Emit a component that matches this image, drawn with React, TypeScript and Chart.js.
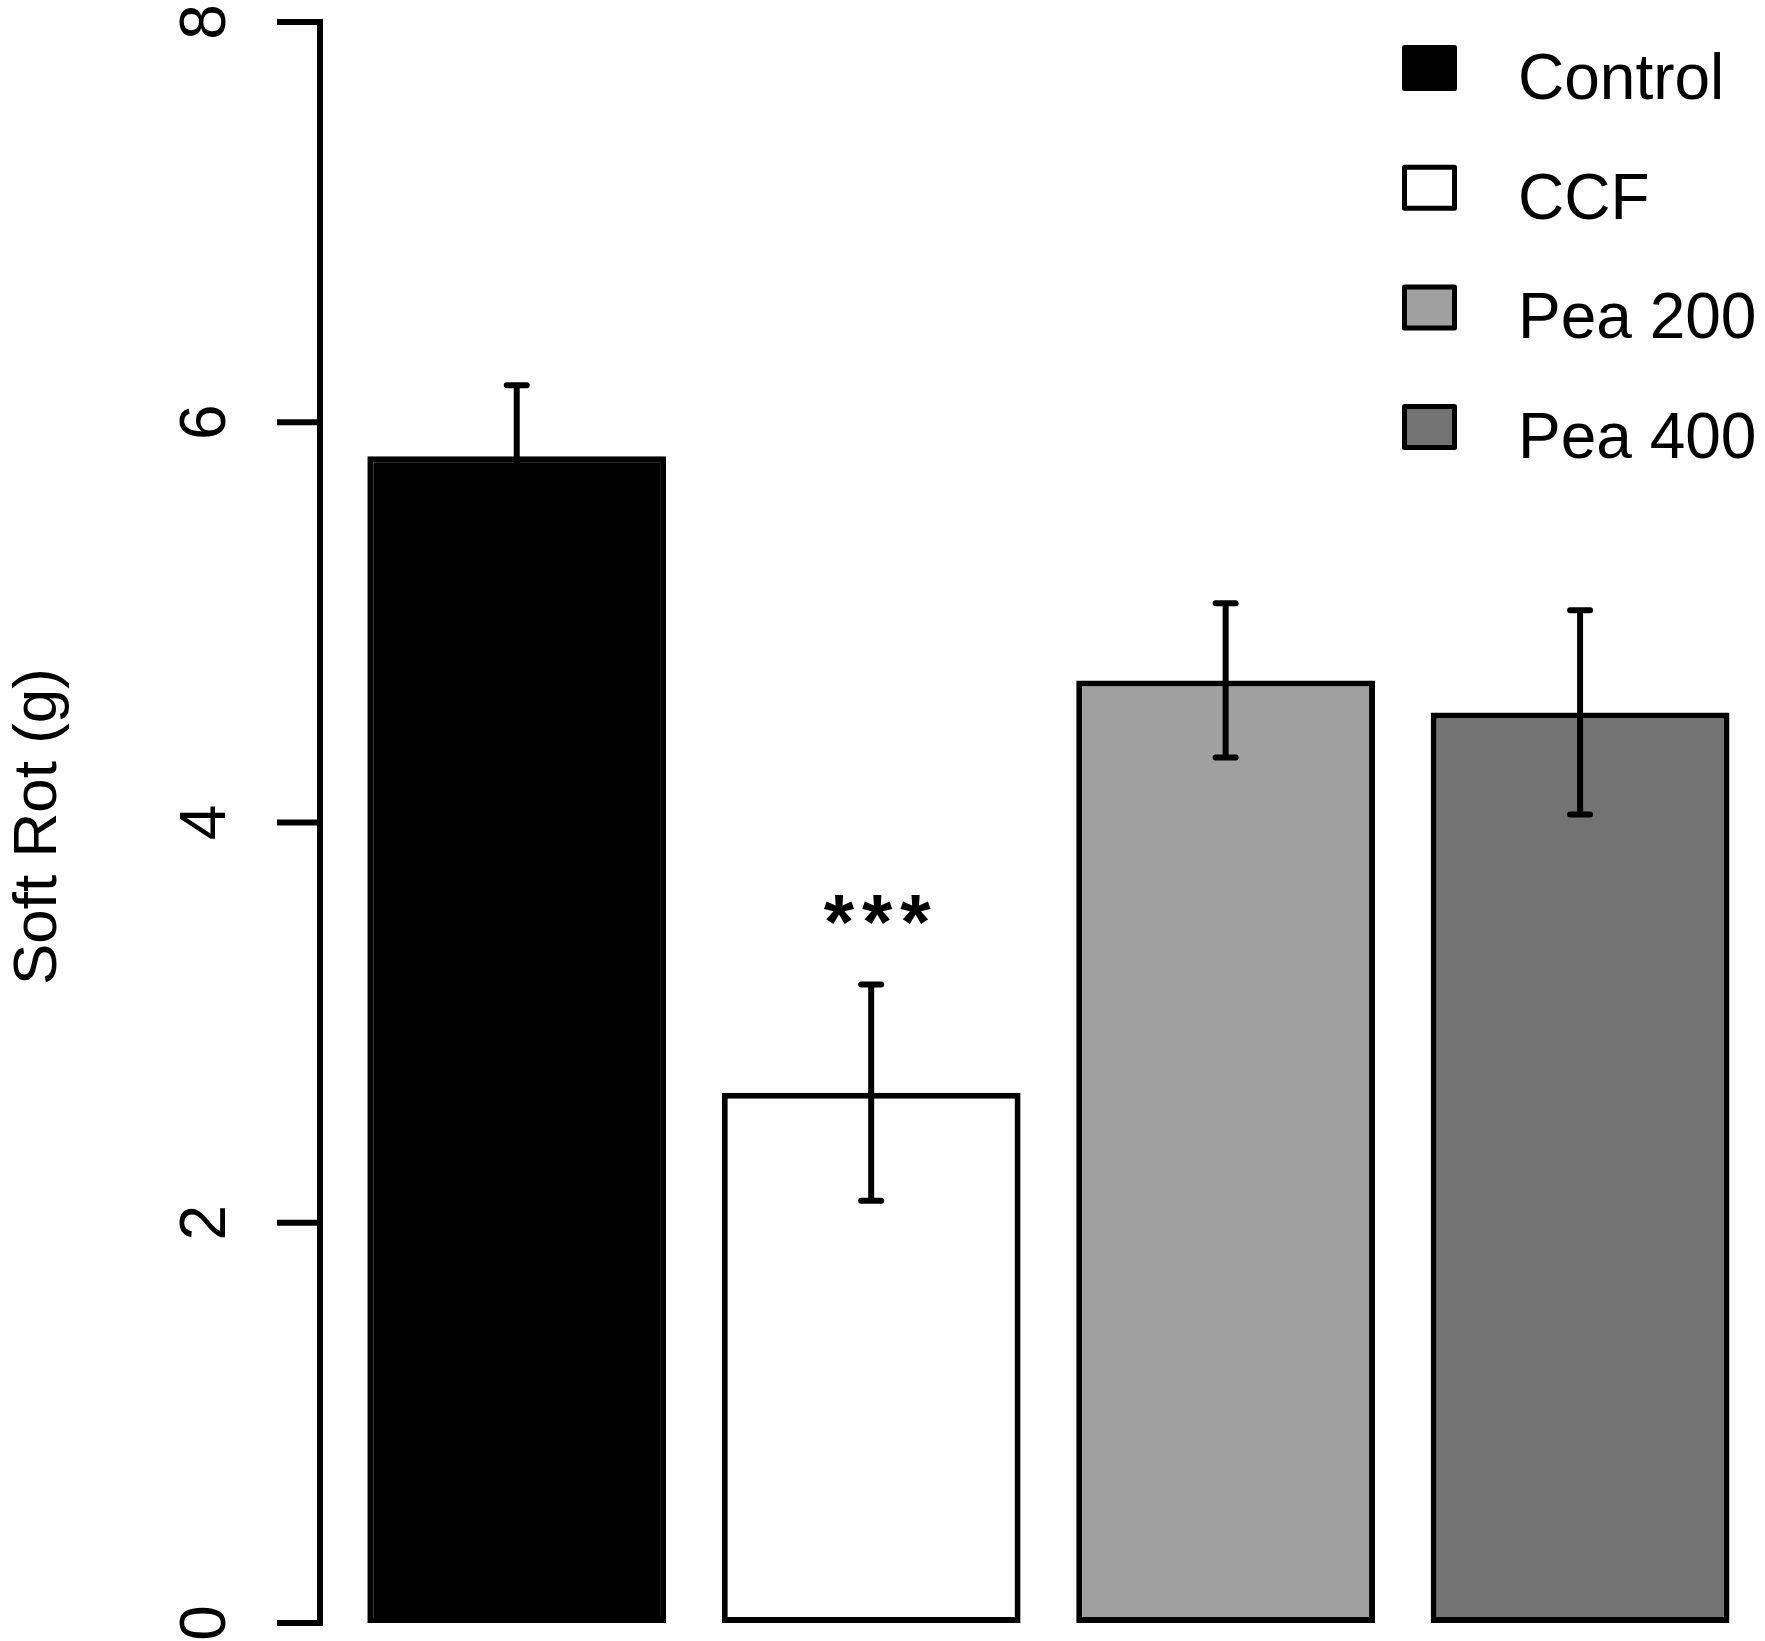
import { useEffect, useRef } from "react";
import { Chart, registerables } from "chart.js";

Chart.register(...registerables);

// values
const CATEGORIES = ["Control", "CCF", "Pea 200", "Pea 400"];
const MEANS = [5.83, 2.65, 4.71, 4.55];
const ERRORS = [0.355, 0.54, 0.385, 0.51];
const SIG_LABELS = ["", "***", "", ""];
const FILLS = ["#000000", "#ffffff", "#a0a0a0", "#737373"];
const Y_TICKS = [0, 2, 4, 6, 8];
const Y_TITLE = "Soft Rot (g)";

const FONT = '"Liberation Sans", Arial, Helvetica, sans-serif';

// R barplot style positions: width 1, space 0.2
const barPos = (i: number) => 0.7 + 1.2 * i;

const decorations = {
  id: "decorations",
  afterDatasetsDraw(chart: Chart) {
    const { ctx, chartArea, scales } = chart;
    const y = scales.y;
    const meta = chart.getDatasetMeta(0);
    ctx.save();
    ctx.strokeStyle = "#000";
    ctx.fillStyle = "#000";
    ctx.lineWidth = 6;

    // error bars + significance marks
    ctx.lineCap = "round";
    meta.data.forEach((bar: any, i: number) => {
      const top = y.getPixelForValue(MEANS[i] + ERRORS[i]);
      const bot = y.getPixelForValue(MEANS[i] - ERRORS[i]);
      ctx.beginPath();
      ctx.moveTo(bar.x, top);
      ctx.lineTo(bar.x, bot);
      ctx.moveTo(bar.x - 10, top);
      ctx.lineTo(bar.x + 10, top);
      ctx.moveTo(bar.x - 10, bot);
      ctx.lineTo(bar.x + 10, bot);
      ctx.stroke();
      if (SIG_LABELS[i]) {
        ctx.font = `bold 78px ${FONT}`;
        (ctx as any).letterSpacing = "8px";
        ctx.textAlign = "center";
        ctx.textBaseline = "alphabetic";
        ctx.fillText(SIG_LABELS[i], bar.x + 10, top - 36);
        (ctx as any).letterSpacing = "0px";
      }
    });

    // y axis
    const ax = chartArea.left;
    ctx.lineCap = "square";
    ctx.beginPath();
    ctx.moveTo(ax, y.getPixelForValue(Y_TICKS[0]));
    ctx.lineTo(ax, y.getPixelForValue(Y_TICKS[Y_TICKS.length - 1]));
    Y_TICKS.forEach((t) => {
      const py = y.getPixelForValue(t);
      ctx.moveTo(ax, py);
      ctx.lineTo(ax - 40, py);
    });
    ctx.stroke();

    ctx.font = `64px ${FONT}`;
    ctx.textAlign = "center";
    ctx.textBaseline = "alphabetic";
    Y_TICKS.forEach((t) => {
      ctx.save();
      ctx.translate(ax - 95, y.getPixelForValue(t));
      ctx.rotate(-Math.PI / 2);
      ctx.fillText(String(t), 0, 0);
      ctx.restore();
    });

    ctx.save();
    ctx.font = `62px ${FONT}`;
    ctx.translate(56, (chartArea.top + chartArea.bottom) / 2 + 4);
    ctx.rotate(-Math.PI / 2);
    ctx.fillText(Y_TITLE, 0, 0);
    ctx.restore();

    // legend, top right
    ctx.font = `64px ${FONT}`;
    ctx.textAlign = "left";
    ctx.lineWidth = 5;
    CATEGORIES.forEach((c, i) => {
      const cy = 68 + 119.7 * i;
      ctx.fillStyle = FILLS[i];
      ctx.fillRect(1404.5, cy - 20.5, 50, 41);
      ctx.lineJoin = "round";
      ctx.strokeRect(1404.5, cy - 20.5, 50, 41);
      ctx.fillStyle = "#000";
      ctx.fillText(c, 1518, cy + 31);
    });
    ctx.restore();
  },
};

export default function App() {
  const canvasRef = useRef<HTMLCanvasElement>(null);

  useEffect(() => {
    document.body.style.margin = "0";
    if (!canvasRef.current) return;
    const chart = new Chart(canvasRef.current, {
      type: "bar",
      data: {
        datasets: [
          {
            data: MEANS.map((v, i) => ({ x: barPos(i), y: v })),
            backgroundColor: FILLS,
            borderColor: "#000000",
            borderWidth: 6,
            borderSkipped: false,
            barPercentage: 0.843,
            categoryPercentage: 1,
          },
        ],
      },
      options: {
        animation: false,
        responsive: true,
        maintainAspectRatio: false,
        layout: { padding: { left: 320, top: 22, right: 0, bottom: 18 } },
        plugins: { legend: { display: false }, tooltip: { enabled: false } },
        scales: {
          x: {
            type: "linear",
            display: false,
            offset: false,
            min: 0.034,
            max: 4.926,
            afterBuildTicks: (s: any) => {
              s.ticks = CATEGORIES.map((_, i) => ({ value: barPos(i) }));
            },
          },
          y: { display: false, min: 0, max: 8 },
        },
      },
      plugins: [decorations],
    });
    return () => chart.destroy();
  }, []);

  return (
    <div style={{ width: 1765, height: 1641, position: "relative", background: "#fff" }}>
      <canvas ref={canvasRef} role="img" aria-label="Soft rot bar chart" />
    </div>
  );
}
